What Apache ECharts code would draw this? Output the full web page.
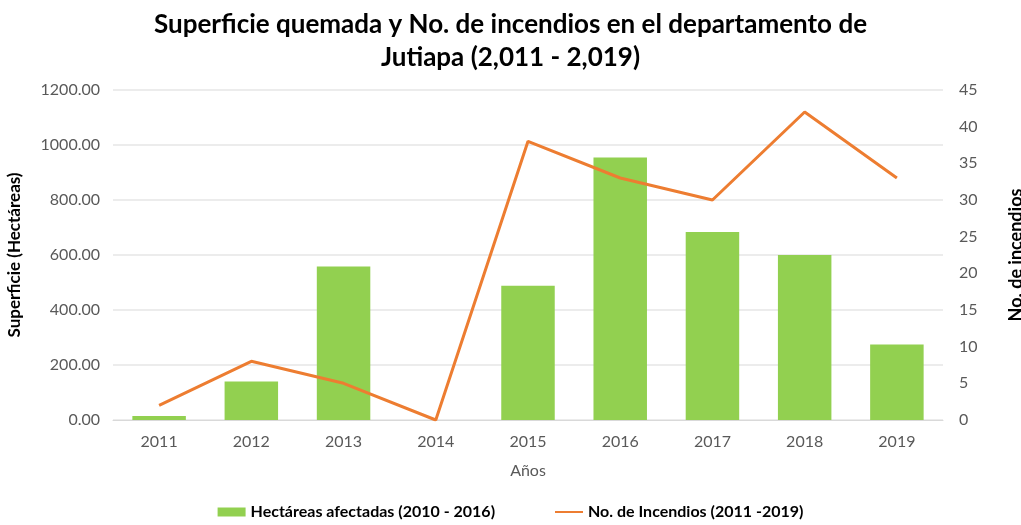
<!DOCTYPE html>
<html>
<head>
<meta charset="utf-8">
<script src="https://cdn.jsdelivr.net/npm/echarts@6/dist/echarts.min.js"></script>
<style>
  html, body { margin: 0; padding: 0; background: #fff; }
  #chart { width: 1021px; height: 525px; }
</style>
</head>
<body>
<div id="chart"></div>
<script>
const years = ['2011', '2012', '2013', '2014', '2015', '2016', '2017', '2018', '2019'];
const hectareas = [15, 140, 558, 0, 488, 955, 684, 600, 275];
const incendios = [2, 8, 5, 0, 38, 33, 30, 42, 33];

const font = 'Lato, "Open Sans", sans-serif';

const chart = echarts.init(document.getElementById('chart'));

const option = {
  animation: false,
  title: {
    text: 'Superficie quemada y No. de incendios en el departamento de\nJutiapa (2,011 - 2,019)',
    left: 'center',
    top: 3,
    textStyle: {
      fontFamily: font,
      fontSize: 26,
      fontWeight: 'bold',
      color: '#000',
      lineHeight: 33,
    },
  },
  legend: {
    bottom: 0,
    left: 'center',
    itemGap: 60,
    itemWidth: 28,
    itemHeight: 9,
    textStyle: { fontFamily: font, fontSize: 16, fontWeight: 'bold', color: '#000' },
    data: [
      { name: 'Hectáreas afectadas (2010 - 2016)', icon: 'rect' },
      { name: 'No. de Incendios (2011 -2019)', icon: 'path://M0,3.5 L28,3.5 L28,5.5 L0,5.5 Z' },
    ],
  },
  grid: { left: 113, right: 78, top: 90, bottom: 105, outerBoundsMode: 'none' },
  xAxis: {
    type: 'category',
    data: years,
    name: 'Años',
    nameLocation: 'middle',
    nameGap: 43,
    nameTextStyle: { fontFamily: font, fontSize: 16, color: '#595959' },
    axisTick: { show: false },
    axisLine: { lineStyle: { color: '#d9d9d9' } },
    axisLabel: { fontFamily: font, fontSize: 16, color: '#595959', margin: 14 },
  },
  yAxis: [
    {
      type: 'value',
      min: 0,
      max: 1200,
      interval: 200,
      name: 'Superficie (Hectáreas)',
      nameLocation: 'middle',
      nameGap: 90,
      nameTextStyle: { fontFamily: font, fontSize: 17, fontWeight: 'bold', color: '#000' },
      axisLabel: {
        fontFamily: font, fontSize: 16, color: '#595959', margin: 13,
        formatter: v => v.toFixed(2),
      },
      splitLine: { lineStyle: { color: '#e6e6e6', width: 1.5 } },
    },
    {
      type: 'value',
      min: 0,
      max: 45,
      interval: 5,
      name: 'No. de incendios',
      nameLocation: 'middle',
      nameGap: 64,
      nameTextStyle: { fontFamily: font, fontSize: 18, fontWeight: 'bold', color: '#000' },
      axisLabel: { fontFamily: font, fontSize: 16, color: '#595959', margin: 16 },
      splitLine: { show: false },
    },
  ],
  series: [
    {
      name: 'Hectáreas afectadas (2010 - 2016)',
      type: 'bar',
      data: hectareas,
      barWidth: '58%',
      itemStyle: { color: '#92D050' },
    },
    {
      name: 'No. de Incendios (2011 -2019)',
      type: 'line',
      yAxisIndex: 1,
      data: incendios,
      symbol: 'none',
      lineStyle: { color: '#ED7D31', width: 3 },
      itemStyle: { color: '#ED7D31' },
    },
  ],
};

chart.setOption(option);
</script>
</body>
</html>
